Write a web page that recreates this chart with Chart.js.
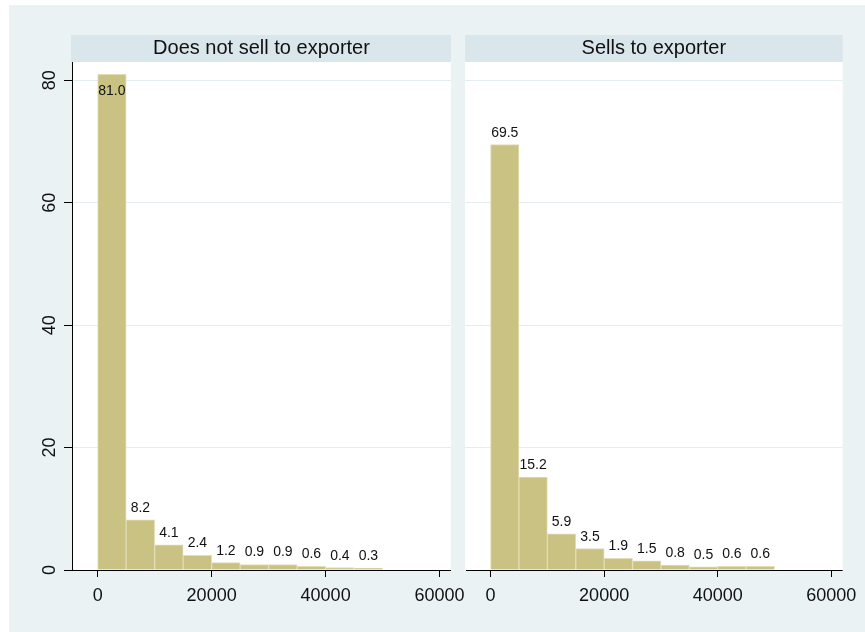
<!DOCTYPE html>
<html lang="en">
<head>
<meta charset="UTF-8">
<title>Histogram by exporter link</title>
<script src="https://cdn.jsdelivr.net/npm/chart.js@4.4.2/dist/chart.umd.min.js"></script>
<style>
  body { margin: 0; background: #fff; }
  .bg { position: absolute; left: 9px; top: 5px; width: 856px; height: 627px; background: #eaf2f3; }
  canvas { position: absolute; left: 0; top: 0; }
</style>
</head>
<body>
<div class="bg"></div>
<canvas id="left" width="865" height="632"></canvas>
<canvas id="right" width="865" height="632"></canvas>
<script>
// histogram bins (mid points, width 5000)
const binMids = [2500, 7500, 12500, 17500, 22500, 27500, 32500, 37500, 42500, 47500];
const noExporter = [81.0, 8.2, 4.1, 2.4, 1.2, 0.9, 0.9, 0.6, 0.4, 0.3];
const toExporter = [69.5, 15.2, 5.9, 3.5, 1.9, 1.5, 0.8, 0.5, 0.6, 0.6];
const panelTitles = ['Does not sell to exporter', 'Sells to exporter'];
const xTicks = [0, 20000, 40000, 60000];
const yTicks = [0, 20, 40, 60, 80];

const FONT = '"Liberation Sans", Arial, sans-serif';
const INK = '#111';

function makePanel(id, title, values, left, right, showY) {
  const panelPlugin = {
    id: 'panel',
    beforeDraw(chart) {
      const ctx = chart.ctx, a = chart.chartArea;
      ctx.save();
      ctx.fillStyle = '#ffffff';
      ctx.fillRect(a.left, a.top, a.right - a.left, a.bottom - a.top);
      ctx.fillStyle = '#d9e6eb';
      ctx.fillRect(a.left - (showY ? 1 : 0), 35, a.right - a.left + (showY ? 1 : 0), a.top - 35);
      ctx.restore();
    },
    afterDatasetsDraw(chart) {
      const ctx = chart.ctx, a = chart.chartArea;
      const meta = chart.getDatasetMeta(0);
      ctx.save();
      ctx.font = '14px ' + FONT;
      ctx.fillStyle = INK;
      ctx.textAlign = 'center';
      meta.data.forEach((bar, i) => {
        const txt = values[i].toFixed(1);
        if (bar.y - 22 < a.top) {
          ctx.textBaseline = 'middle';
          ctx.fillText(txt, bar.x, bar.y + 17);
        } else {
          ctx.textBaseline = 'alphabetic';
          ctx.fillText(txt, bar.x, bar.y - 8);
        }
      });
      ctx.restore();
    },
    afterDraw(chart) {
      const ctx = chart.ctx, a = chart.chartArea;
      ctx.save();
      ctx.strokeStyle = '#000';
      ctx.lineWidth = 1;
      ctx.beginPath();
      ctx.moveTo(a.left - (showY ? 8 : -1), Math.round(a.bottom) + 0.5);
      ctx.lineTo(a.right, Math.round(a.bottom) + 0.5);
      ctx.stroke();
      if (showY) {
        ctx.font = '18px ' + FONT;
        ctx.fillStyle = INK;
        ctx.textAlign = 'center';
        ctx.textBaseline = 'middle';
        yTicks.forEach(v => {
          const y = chart.scales.y.getPixelForValue(v);
          ctx.save();
          ctx.translate(50, y);
          ctx.rotate(-Math.PI / 2);
          ctx.fillText(String(v), 0, 0);
          ctx.restore();
        });
      }
      ctx.restore();
    }
  };

  return new Chart(document.getElementById(id), {
    type: 'bar',
    data: {
      datasets: [{
        data: binMids.map((m, i) => ({ x: m, y: values[i] })),
        backgroundColor: '#c9c282',
        borderColor: '#e2ddb6',
        borderWidth: 1,
        barPercentage: 1,
        categoryPercentage: 1
      }]
    },
    options: {
      responsive: false,
      animation: false,
      devicePixelRatio: 1,
      layout: { padding: { top: 35, left: 0, right: 865 - right, bottom: 0 } },
      plugins: {
        legend: { display: false },
        tooltip: { enabled: false },
        title: {
          display: true,
          text: title,
          fullSize: false,
          color: INK,
          font: { family: FONT, size: 20, weight: 'normal', lineHeight: 1.1 },
          padding: { top: 2.5, bottom: 2.5 }
        }
      },
      scales: {
        x: {
          type: 'linear',
          min: -4500,
          max: 62000,
          offset: false,
          afterBuildTicks: s => { s.ticks = xTicks.map(v => ({ value: v })); },
          afterFit: s => { s.height = 62; },
          grid: { offset: false, drawOnChartArea: false, tickLength: 7, tickColor: '#000', color: '#000' },
          border: { display: false },
          ticks: {
            color: INK,
            font: { family: FONT, size: 18 },
            padding: 8,
            maxRotation: 0,
            callback: v => String(v)
          }
        },
        y: {
          min: 0,
          max: 83,
          afterBuildTicks: s => { s.ticks = yTicks.map(v => ({ value: v })); },
          afterFit: s => { s.width = left; },
          grid: {
            color: '#e4eef1',
            tickColor: '#000',
            tickLength: 8,
            drawTicks: showY
          },
          border: { display: showY, color: '#000', width: 1 },
          ticks: { display: false }
        }
      }
    },
    plugins: [panelPlugin]
  });
}

makePanel('left', panelTitles[0], noExporter, 72, 451, true);
makePanel('right', panelTitles[1], toExporter, 465, 845, false);
</script>
</body>
</html>
